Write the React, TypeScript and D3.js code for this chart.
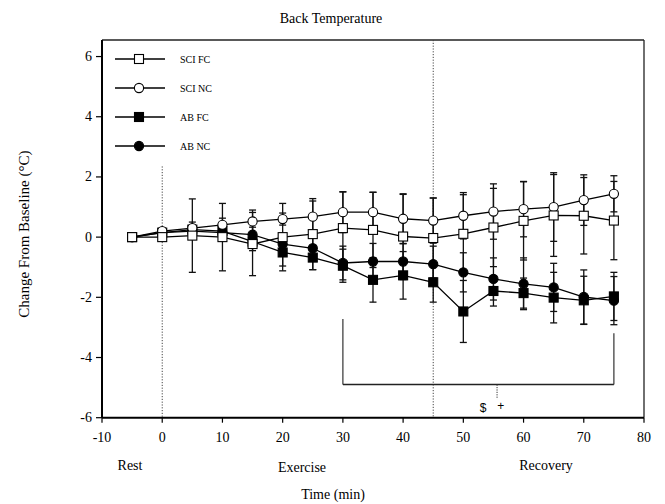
import React from "react";
import * as d3 from "d3";

const times = [-5, 0, 5, 10, 15, 20, 25, 30, 35, 40, 45, 50, 55, 60, 65, 70, 75];

const sciFC = [0, 0.0, 0.05, 0.0, -0.23, 0.0, 0.1, 0.3, 0.24, 0.02, -0.03, 0.11, 0.32, 0.54, 0.72, 0.71, 0.55];
const sciFCsd = [0, 0.12, 1.22, 1.12, 1.05, 1.12, 1.18, 1.2, 1.25, 1.4, 1.33, 1.3, 1.3, 1.3, 1.36, 1.27, 1.3];

const sciNC = [0, 0.2, 0.3, 0.41, 0.52, 0.6, 0.68, 0.83, 0.83, 0.61, 0.55, 0.71, 0.85, 0.93, 1.0, 1.23, 1.44];
const sciNCsd = [0, 0.1, 0.2, 0.22, 0.38, 0.2, 0.52, 0.68, 0.66, 0.83, 0.75, 0.77, 0.92, 0.92, 1.14, 0.84, 0.6];

const abFC = [0, 0.15, 0.25, 0.2, -0.15, -0.51, -0.68, -0.95, -1.42, -1.27, -1.5, -2.47, -1.79, -1.86, -2.01, -2.1, -1.97];
const abFCsd = [0, 0.1, 0.15, 0.2, 0.3, 0.45, 0.4, 0.55, 0.74, 0.79, 0.66, 1.03, 0.5, 0.5, 0.84, 0.8, 0.8];

const abNC = [0, 0.15, 0.2, 0.15, 0.08, -0.23, -0.37, -0.86, -0.81, -0.81, -0.9, -1.17, -1.39, -1.55, -1.67, -1.99, -2.11];
const abNCsd = [0, 0.1, 0.15, 0.2, 0.25, 0.3, 0.4, 0.56, 0.6, 0.6, 0.6, 0.65, 0.7, 0.86, 0.8, 0.9, 0.8];

const xTicks = [-10, 0, 10, 20, 30, 40, 50, 60, 70, 80];
const yTicks = [-6, -4, -2, 0, 2, 4, 6];

const legendLabels = ["SCI FC", "SCI NC", "AB FC", "AB NC"];
const phaseLabels = ["Rest", "Exercise", "Recovery"];

const FONT = "'Liberation Serif', 'Times New Roman', serif";

type Series = { name: string; values: number[]; sd: number[]; shape: "square" | "circle"; filled: boolean };

const series: Series[] = [
  { name: legendLabels[3], values: abNC, sd: abNCsd, shape: "circle", filled: true },
  { name: legendLabels[2], values: abFC, sd: abFCsd, shape: "square", filled: true },
  { name: legendLabels[1], values: sciNC, sd: sciNCsd, shape: "circle", filled: false },
  { name: legendLabels[0], values: sciFC, sd: sciFCsd, shape: "square", filled: false },
];

const legendOrder: Series[] = [series[3], series[2], series[1], series[0]];

function Marker({ cx, cy, s }: { cx: number; cy: number; s: Series }) {
  const fill = s.filled ? "#000" : "#fff";
  if (s.shape === "square") {
    return <rect x={cx - 4.5} y={cy - 4.5} width={9} height={9} fill={fill} stroke="#000" strokeWidth={1.1} />;
  }
  return <circle cx={cx} cy={cy} r={4.6} fill={fill} stroke="#000" strokeWidth={1.1} />;
}

export default function App() {
  const left = 102, right = 644, top = 40, bottom = 417.7;
  const x = d3.scaleLinear().domain([-10, 80]).range([left, right]);
  const y = d3.scaleLinear().domain([-6, 6.55]).range([bottom, top]);
  const line = d3.line<number>().x((_, i) => x(times[i])).y((d) => y(d));

  return (
    <svg width={665} height={504} style={{ position: "absolute", left: 0, top: 0, display: "block", background: "#fff" }} fontFamily={FONT}>
      <rect x={0} y={0} width={665} height={504} fill="#fff" />
      <text x={331} y={23} textAnchor="middle" fontSize={14} fill="#000">Back Temperature</text>

      {/* frame */}
      <line x1={left} y1={top} x2={right} y2={top} stroke="#222" strokeWidth={1.3} />
      <line x1={right} y1={top} x2={right} y2={bottom} stroke="#222" strokeWidth={1.3} />
      <line x1={left} y1={top} x2={left} y2={bottom} stroke="#000" strokeWidth={2} />
      <line x1={left} y1={bottom} x2={right} y2={bottom} stroke="#000" strokeWidth={2} />

      {/* y ticks */}
      {yTicks.map((t) => (
        <g key={"y" + t}>
          <line x1={left - 6} x2={left} y1={y(t)} y2={y(t)} stroke="#000" strokeWidth={1.2} />
          <text x={left - 10} y={y(t)} textAnchor="end" dominantBaseline="central" fontSize={14} fill="#000">{t}</text>
        </g>
      ))}
      {/* x ticks */}
      {xTicks.map((t) => (
        <g key={"x" + t}>
          <line x1={x(t)} x2={x(t)} y1={bottom} y2={bottom + 5} stroke="#000" strokeWidth={1.2} />
          <text x={x(t)} y={bottom + 20} textAnchor="middle" dominantBaseline="central" fontSize={14} fill="#000">{t}</text>
        </g>
      ))}

      {/* phase markers */}
      <line x1={x(0)} x2={x(0)} y1={y(2.35)} y2={bottom} stroke="#444" strokeWidth={1} strokeDasharray="1.2,1.6" />
      <line x1={x(45)} x2={x(45)} y1={top} y2={bottom} stroke="#444" strokeWidth={1} strokeDasharray="1.2,1.6" />

      {/* significance bracket */}
      <line x1={x(30)} x2={x(30)} y1={y(-2.72)} y2={y(-4.9)} stroke="#333" strokeWidth={1.2} />
      <line x1={x(75)} x2={x(75)} y1={y(-3.19)} y2={y(-4.9)} stroke="#333" strokeWidth={1.2} />
      <line x1={x(30)} x2={x(75)} y1={y(-4.9)} y2={y(-4.9)} stroke="#222" strokeWidth={1.5} />
      <line x1={x(55.6)} x2={x(55.6)} y1={y(-4.9)} y2={y(-5.38)} stroke="#333" strokeWidth={1} strokeDasharray="1.2,1.2" />
      <text x={x(53.3)} y={y(-5.68)} textAnchor="middle" dominantBaseline="central" fontSize={12} fill="#000" fontFamily="'Liberation Sans', Arial, sans-serif">$</text>
      <text x={x(56.2)} y={y(-5.6)} textAnchor="middle" dominantBaseline="central" fontSize={12} fill="#000" fontFamily="'Liberation Sans', Arial, sans-serif">+</text>

      {/* error bars */}
      {series.map((s) => (
        <g key={"e" + s.name}>
          {s.values.map((v, i) => {
            const sd = s.sd[i];
            if (sd <= 0) return null;
            const cx = x(times[i]);
            return (
              <g key={i}>
                <line x1={cx} x2={cx} y1={y(v - sd)} y2={y(v + sd)} stroke="#111" strokeWidth={1.3} />
                <line x1={cx - 3.5} x2={cx + 3.5} y1={y(v - sd)} y2={y(v - sd)} stroke="#111" strokeWidth={1.3} />
                <line x1={cx - 3.5} x2={cx + 3.5} y1={y(v + sd)} y2={y(v + sd)} stroke="#111" strokeWidth={1.3} />
              </g>
            );
          })}
        </g>
      ))}

      {/* lines */}
      {series.map((s) => (
        <path key={"l" + s.name} d={line(s.values) || ""} fill="none" stroke="#000" strokeWidth={1.3} />
      ))}

      {/* markers */}
      {series.map((s) => (
        <g key={"m" + s.name}>
          {s.values.map((v, i) => (
            <Marker key={i} cx={x(times[i])} cy={y(v)} s={s} />
          ))}
        </g>
      ))}

      {/* legend */}
      {legendOrder.map((s, i) => {
        const ly = 59 + i * 29;
        return (
          <g key={"lg" + s.name}>
            <line x1={115} x2={165} y1={ly} y2={ly} stroke="#000" strokeWidth={1.3} />
            <Marker cx={139} cy={ly} s={s} />
            <text x={180} y={ly} dominantBaseline="central" fontSize={10} fill="#000">{s.name}</text>
          </g>
        );
      })}

      {/* phase labels */}
      <text x={130} y={465} textAnchor="middle" dominantBaseline="central" fontSize={14} fill="#000">{phaseLabels[0]}</text>
      <text x={302} y={467} textAnchor="middle" dominantBaseline="central" fontSize={14} fill="#000">{phaseLabels[1]}</text>
      <text x={546} y={465} textAnchor="middle" dominantBaseline="central" fontSize={14} fill="#000">{phaseLabels[2]}</text>
      <text x={333} y={494} textAnchor="middle" dominantBaseline="central" fontSize={14} fill="#000">Time (min)</text>

      <text transform={`translate(24, ${y(0.1)}) rotate(-90)`} textAnchor="middle" dominantBaseline="central" fontSize={15} fill="#000">
        Change From Baseline (°C)
      </text>
    </svg>
  );
}
